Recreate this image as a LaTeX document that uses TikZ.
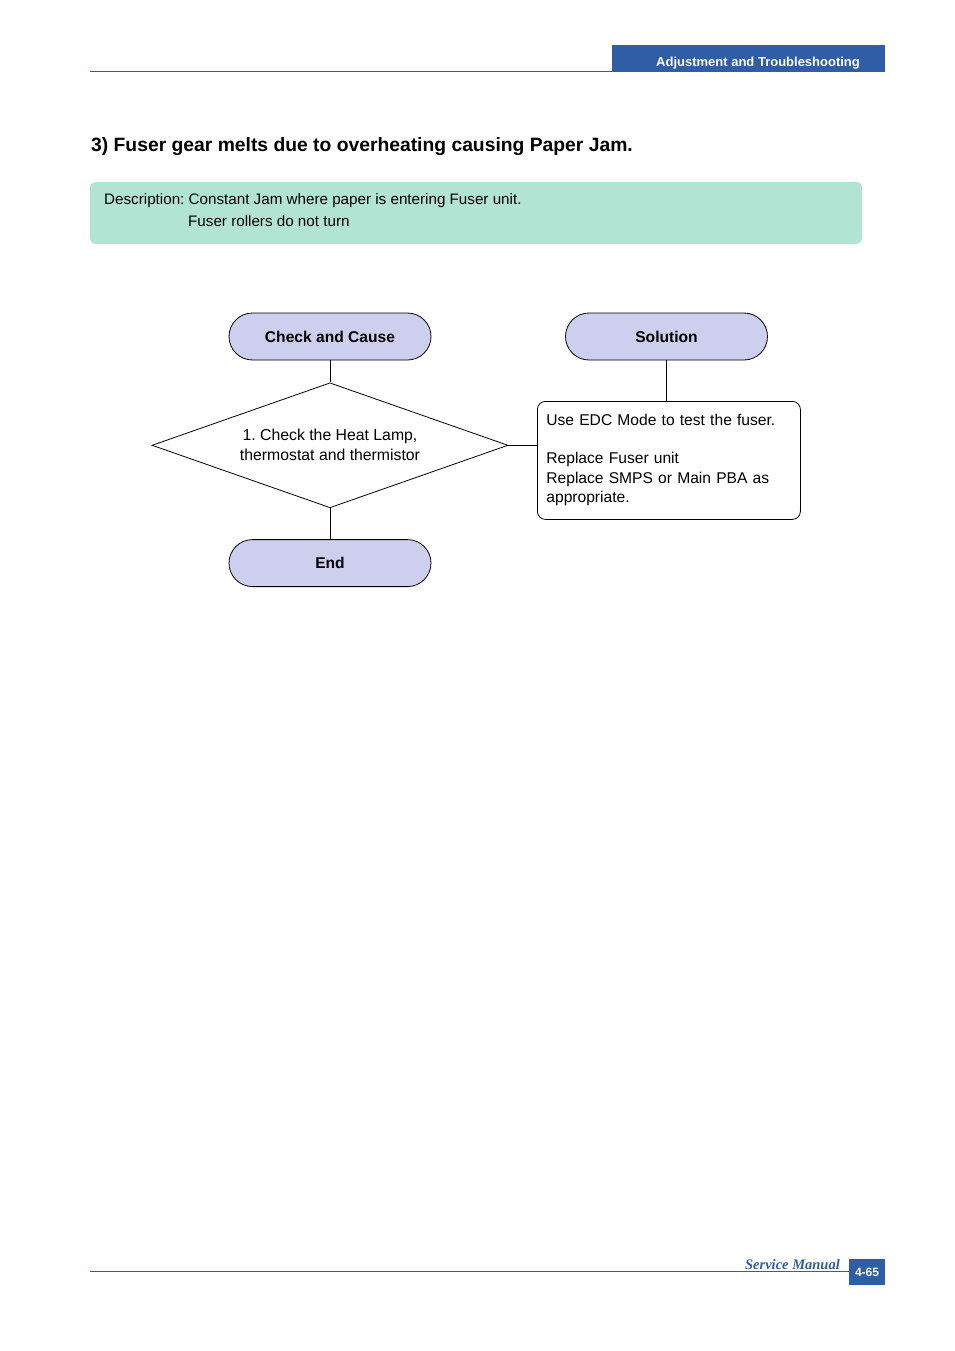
\documentclass[tikz,border=0pt]{standalone}
\usepackage{fontspec}
\setmainfont{Liberation Sans}
\newfontfamily\footfont{Liberation Serif}
\usepackage{xcolor}
\usetikzlibrary{
shapes.geometric,
positioning
}
\definecolor{headblue}{HTML}{2F5DA6}
\definecolor{descgreen}{HTML}{B1E4D3}
\definecolor{ovalfill}{HTML}{CECEEE}

\begin{document}
\frenchspacing
\begin{tikzpicture}[x=1pt,y=-1pt,
    oval/.style={draw,fill=ovalfill,line width=0.8pt,rounded corners=23.5pt,
      minimum width=202pt,minimum height=47pt,inner sep=0pt,
      font=\fontsize{15.6}{18}\selectfont\bfseries},
    decide/.style={draw,diamond,aspect=2.85,line width=0.8pt,inner sep=0pt,
      minimum width=356pt,minimum height=125pt,align=center,
      font=\fontsize{15.8}{20}\selectfont},
    actbox/.style={draw,rounded corners=8pt,line width=0.8pt,inner sep=9pt,
      text width=245pt,minimum height=118pt,align=left,
      font=\fontsize{15.6}{19.5}\selectfont},
    link/.style={line width=0.8pt}]
    \useasboundingbox (0,0) rectangle (954,1351);

    % header
    \fill[headblue] (612,45) rectangle (885,72);
    \draw[headblue,line width=1pt] (90,72) -- (612,72);
    \node[text=white,font=\fontsize{13}{15}\selectfont\bfseries] (head) at (758,63) {Adjustment and Troubleshooting};

    % title and description
    \node[anchor=west,inner sep=0pt,font=\fontsize{19.3}{22}\selectfont\bfseries] (title) at (91,147) {3) Fuser gear melts due to overheating causing Paper Jam.};
    \fill[descgreen,rounded corners=6pt] (90,182) rectangle (862,244);
    \node[anchor=west,inner sep=0pt,font=\fontsize{15.2}{18}\selectfont] (desc1) at (104,201) {Description: Constant Jam where paper is entering Fuser unit.};
    \node[anchor=west,inner sep=0pt,font=\fontsize{15.2}{18}\selectfont] (desc2) at (188,221) {Fuser rollers do not turn};

    % flow
    \node[oval] (cause) at (330,336.5) {Check and Cause};
    \node[oval] (sol) at (666.5,336.5) {Solution};
    \node[decide, below = 22pt of cause] (check) {1. Check the Heat Lamp,\\thermostat and thermistor};
    \node[oval, below = 31pt of check] (fin) {End};
    \node[actbox, anchor=north west] (fix) at (537,401) {Use EDC Mode to test the fuser.\\[18.5pt]Replace Fuser unit\\Replace SMPS or Main PBA as\\appropriate.};

    \draw[link] (cause) -- (check);
    \draw[link] (check) -- (fin);
    \draw[link] (check.east) -- (check.east -| fix.west);
    \draw[link] (sol) -- (sol |- fix.north);

    % footer
    \draw[headblue,line width=0.8pt] (90,1271) -- (849,1271);
    \fill[headblue] (849,1259) rectangle (885,1285);
    \node[text=white,font=\fontsize{12}{13}\selectfont\bfseries] (page) at (867,1272) {4-65};
    \node[anchor=east,text=headblue,inner sep=0pt,font=\footfont\fontsize{14.5}{16}\selectfont\bfseries\itshape] (manual) at (840,1264.5) {Service Manual};
  \end{tikzpicture}
\end{document}
